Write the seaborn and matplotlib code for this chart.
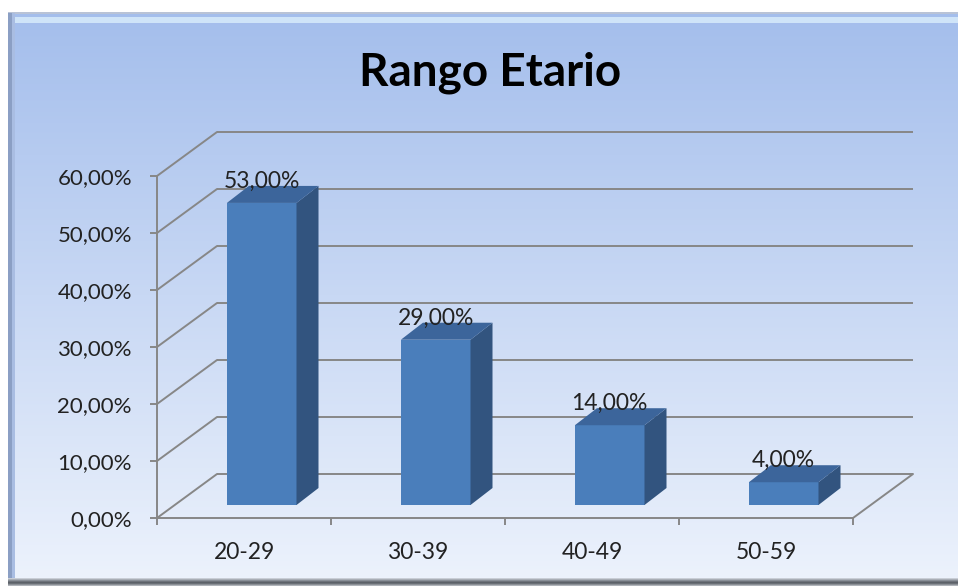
import numpy as np
import matplotlib
matplotlib.use("Agg")
import matplotlib.pyplot as plt
import seaborn as sns
from matplotlib.patches import Polygon, Rectangle
from matplotlib.ticker import FuncFormatter

# data
categories = ["20-29", "30-39", "40-49", "50-59"]
values = [53.0, 29.0, 14.0, 4.0]
y_ticks = [0, 10, 20, 30, 40, 50, 60]
title = "Rango Etario"

sns.set_style("white")
plt.rcParams["font.family"] = ["Lato", "DejaVu Sans"]

W, H = 958, 586
fig = plt.figure(figsize=(W / 100, H / 100), dpi=100)

# ---- background frame (pixel coordinates) ----
bg = fig.add_axes([0, 0, 1, 1], zorder=-5)
bg.set_xlim(0, W)
bg.set_ylim(H, 0)
bg.axis("off")
grad = np.linspace(0, 1, 256).reshape(-1, 1)
top_c = np.array([164, 190, 236]) / 255
bot_c = np.array([236, 242, 252]) / 255
img = top_c * (1 - grad[..., None]) + bot_c * grad[..., None]
img = np.repeat(img, 2, axis=1)
bg.imshow(img, extent=(8, W, 578, 13), aspect="auto", zorder=0)
bg.add_patch(Rectangle((8, 12), W - 8, 2, color="#b9c3d6", zorder=1, lw=0))
bg.add_patch(Rectangle((14, 17), W - 14, 6, color="#d7ebfb", zorder=1, lw=0, alpha=0.85))
bg.add_patch(Rectangle((8, 13), 4, 565, color="#8b9fc4", zorder=1, lw=0))
bg.add_patch(Rectangle((12, 13), 3, 565, color="#a9bde2", zorder=1, lw=0))
for i, c in enumerate(["#c9ced6", "#a9aeb6", "#8a9098", "#6e737b", "#5c6168", "#6a6f76", "#8b9096", "#b0b4ba"]):
    bg.add_patch(Rectangle((8, 578 + i), W - 8, 1, color=c, zorder=2, lw=0))

# ---- main chart axes, mapped so data lines up with the picture ----
x0_px, x_unit = 157, 174.0      # px of x=-0.5, px per category
y0_px, y_unit = 518, 5.7        # px of y=0, px per percent
left, right, top, bottom = 100, 945, 110, 545
ax = fig.add_axes([left / W, (H - bottom) / H, (right - left) / W, (bottom - top) / H])
ax.set_facecolor("none")

DX, DY = 60 / x_unit, 44 / y_unit        # depth of the floor / walls
f0 = 0.295                               # where bar fronts sit in the depth
BDX, BDY = 22 / x_unit, 17 / y_unit      # bar depth

grid_c = "#878787"
lw = 1.4
x_lo, x_hi = -0.5, len(categories) - 0.5

# back wall gridlines + left wall diagonals
for v in y_ticks:
    ax.plot([x_lo + DX, x_hi + DX], [v + DY, v + DY], color=grid_c, lw=lw, zorder=1,
            solid_capstyle="butt")
    ax.plot([x_lo, x_lo + DX], [v, v + DY], color=grid_c, lw=lw, zorder=1)
# right edge of floor
ax.plot([x_hi, x_hi + DX], [0, DY], color=grid_c, lw=lw, zorder=1)

# front faces of the bars
sns.barplot(x=categories, y=values, color="#4a7ebb", saturation=1, width=0.4,
            linewidth=0, ax=ax, zorder=3)

side_c = "#32547f"
top_c2 = "#3c659b"
for p, v in zip(ax.patches, values):
    p.set_x(p.get_x() + f0 * DX)
    p.set_y(f0 * DY)
    bx, by, bw, bh = p.get_x(), p.get_y(), p.get_width(), p.get_height()
    side = Polygon([(bx + bw, by), (bx + bw + BDX, by + BDY),
                    (bx + bw + BDX, by + bh + BDY), (bx + bw, by + bh)],
                   closed=True, facecolor=side_c, edgecolor="none", zorder=3)
    topf = Polygon([(bx, by + bh), (bx + bw, by + bh), (bx + bw + BDX, by + bh + BDY),
                    (bx + BDX, by + bh + BDY)],
                   closed=True, facecolor=top_c2, edgecolor="none", zorder=3)
    ax.add_patch(side)
    ax.add_patch(topf)
    label = f"{v:.2f}".replace(".", ",") + "%"
    ax.text(bx + bw / 2, by + bh + BDY - 0.3, label, ha="center", va="baseline",
            fontsize=16.5, color="#222222", zorder=4)

# axes lines and ticks
for s in ["top", "right"]:
    ax.spines[s].set_visible(False)
ax.spines["left"].set_position(("data", x_lo))
ax.spines["left"].set_bounds(0, 60)
ax.spines["bottom"].set_position(("data", 0))
ax.spines["bottom"].set_bounds(x_lo, x_hi)
for s in ["left", "bottom"]:
    ax.spines[s].set_color(grid_c)
    ax.spines[s].set_linewidth(lw)
    ax.spines[s].set_zorder(2)

ax.set_yticks(y_ticks)
ax.yaxis.set_major_formatter(FuncFormatter(lambda v, pos: f"{v:.2f}".replace(".", ",") + "%"))
ax.set_xticks(np.arange(len(categories) + 1) - 0.5, labels=[""] * (len(categories) + 1))
ax.set_xticks(np.arange(len(categories)), labels=categories, minor=True)
ax.tick_params(axis="y", which="major", direction="out", length=5, width=lw,
               color=grid_c, pad=13, labelsize=16, labelcolor="#222222", left=True)
ax.tick_params(axis="x", which="major", direction="out", length=5, width=lw,
               color=grid_c, bottom=True)
ax.tick_params(axis="x", which="minor", length=0, pad=17, labelsize=16.5, labelcolor="#222222")
ax.set_xlabel("")
ax.set_ylabel("")

ax.set_xlim((left - x0_px) / x_unit - 0.5, (right - x0_px) / x_unit - 0.5)
ax.set_ylim((y0_px - bottom) / y_unit, (y0_px - top) / y_unit)

fig.text(490 / W, 1 - 86 / H, title, ha="center", va="baseline",
         fontsize=33, fontweight="bold", color="black")

fig.savefig("out.png", dpi=100)
